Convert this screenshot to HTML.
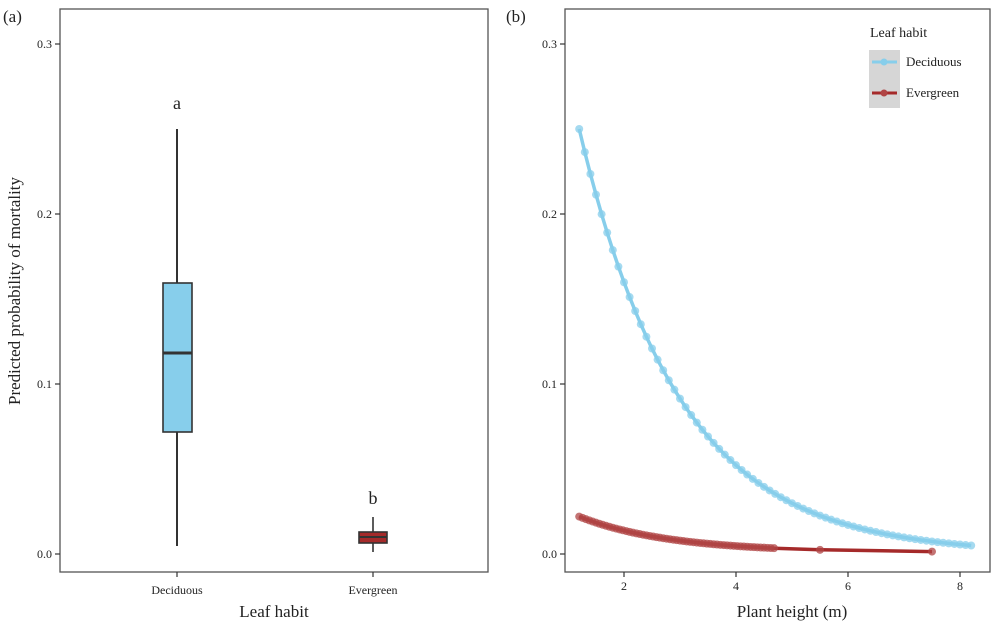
<!DOCTYPE html>
<html><head><meta charset="utf-8"><style>
body{margin:0;background:#fff;}
svg text{font-family:"Liberation Serif",serif;fill:#222;}
</style></head><body>
<svg id="s" width="1000" height="625" viewBox="0 0 1000 625" xmlns="http://www.w3.org/2000/svg">
<rect x="0" y="0" width="1000" height="625" fill="#fff"/>
<rect x="60" y="9" width="428" height="563" fill="none" stroke="#555" stroke-width="1.3"/>
<text x="3" y="22" font-size="17">(a)</text>
<g font-size="12" text-anchor="end">
<text x="52" y="48">0.3</text><text x="52" y="218">0.2</text><text x="52" y="388">0.1</text><text x="52" y="558">0.0</text>
</g>
<g stroke="#333" stroke-width="1.2">
<line x1="55" y1="44" x2="60" y2="44"/><line x1="55" y1="214" x2="60" y2="214"/><line x1="55" y1="384" x2="60" y2="384"/><line x1="55" y1="554" x2="60" y2="554"/>
<line x1="177" y1="572" x2="177" y2="577"/><line x1="373" y1="572" x2="373" y2="577"/>
</g>
<text x="177" y="594" font-size="12" text-anchor="middle">Deciduous</text>
<text x="373" y="594" font-size="12" text-anchor="middle">Evergreen</text>
<text x="274" y="617" font-size="17" text-anchor="middle">Leaf habit</text>
<text transform="translate(20,291) rotate(-90)" font-size="17" text-anchor="middle">Predicted probability of mortality</text>
<line x1="177" y1="129" x2="177" y2="546" stroke="#333" stroke-width="2"/>
<rect x="163" y="283" width="29" height="149" fill="#87ceeb" stroke="#333" stroke-width="1.6"/>
<line x1="163" y1="353" x2="192" y2="353" stroke="#333" stroke-width="3"/>
<text x="177" y="109" font-size="18" text-anchor="middle">a</text>
<line x1="373" y1="517" x2="373" y2="552" stroke="#333" stroke-width="1.6"/>
<rect x="359" y="532" width="28" height="11" fill="#a52a2a" stroke="#333" stroke-width="1.6"/>
<line x1="359" y1="537" x2="387" y2="537" stroke="#333" stroke-width="2"/>
<text x="373" y="504" font-size="18" text-anchor="middle">b</text>
<rect x="565" y="9" width="425" height="563" fill="none" stroke="#555" stroke-width="1.3"/>
<text x="506" y="22" font-size="17">(b)</text>
<g font-size="12" text-anchor="end">
<text x="557" y="48">0.3</text><text x="557" y="218">0.2</text><text x="557" y="388">0.1</text><text x="557" y="558">0.0</text>
</g>
<g stroke="#333" stroke-width="1.2">
<line x1="560" y1="44" x2="565" y2="44"/><line x1="560" y1="214" x2="565" y2="214"/><line x1="560" y1="384" x2="565" y2="384"/><line x1="560" y1="554" x2="565" y2="554"/>
<line x1="624" y1="572" x2="624" y2="577"/><line x1="736" y1="572" x2="736" y2="577"/><line x1="848" y1="572" x2="848" y2="577"/><line x1="960" y1="572" x2="960" y2="577"/>
</g>
<g font-size="12" text-anchor="middle">
<text x="624" y="590">2</text><text x="736" y="590">4</text><text x="848" y="590">6</text><text x="960" y="590">8</text>
</g>
<text x="792" y="617" font-size="17" text-anchor="middle">Plant height (m)</text>
<g id="curves"></g>
<text x="870" y="37" font-size="14">Leaf habit</text>
<rect x="869" y="50" width="31" height="58" fill="#d6d6d6"/>
<line x1="872" y1="62" x2="897" y2="62" stroke="#87ceeb" stroke-width="3"/>
<circle cx="884" cy="62" r="3.5" fill="#87ceeb"/>
<line x1="872" y1="93" x2="897" y2="93" stroke="#a52a2a" stroke-width="3"/>
<circle cx="884" cy="93" r="3.5" fill="#b04545"/>
<text x="906" y="66" font-size="13">Deciduous</text>
<text x="906" y="97" font-size="13">Evergreen</text>
</svg>
<script>
var g=document.getElementById('curves'),NS='http://www.w3.org/2000/svg';
function X(h){return 624+(h-2)*56;} function Y(p){return 554-p*1700;}
function series(hs,f,col,pc){
 var d='';hs.forEach(function(h,i){d+=(i?'L':'M')+X(h).toFixed(1)+','+Y(f(h)).toFixed(1);});
 var p=document.createElementNS(NS,'path');p.setAttribute('d',d);p.setAttribute('fill','none');p.setAttribute('stroke',col);p.setAttribute('stroke-width','3.5');g.appendChild(p);
 hs.forEach(function(h){var c=document.createElementNS(NS,'circle');c.setAttribute('cx',X(h));c.setAttribute('cy',Y(f(h)));c.setAttribute('r','4');c.setAttribute('fill',pc);c.setAttribute('fill-opacity','0.75');g.appendChild(c);});
}
var hb=[];for(var h=1.2;h<=8.21;h+=0.1)hb.push(h);
series(hb,function(h){return 0.25*Math.exp(-0.559*(h-1.2));},'#87ceeb','#87ceeb');
var hr=[];for(var h=1.2;h<=4.7;h+=0.06)hr.push(h);hr.push(5.5);hr.push(7.5);
series(hr,function(h){return 0.001+0.021*Math.exp(-0.62*(h-1.2));},'#a52a2a','#b04545');
</script>
</body></html>
